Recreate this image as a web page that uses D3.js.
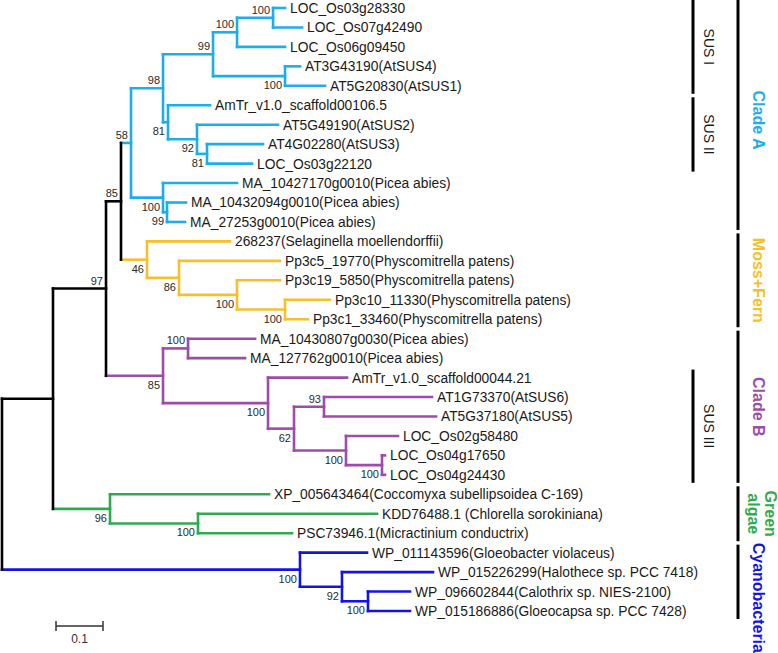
<!DOCTYPE html>
<html><head><meta charset="utf-8">
<script src="https://cdn.jsdelivr.net/npm/d3@7"></script>
<style>html,body{margin:0;padding:0;background:#fff;} svg{display:block;}</style>
</head><body><svg id="chart" width="778" height="653"></svg>
<script>
// ---------- DATA ----------
const nodeIds = [
  "root","A","N97","N85","Bl","N98","N99","N100a","N100aa",
  "LOC_Os03g28330","LOC_Os07g42490","LOC_Os06g09450",
  "N100b","AT3G43190(AtSUS4)","AT5G20830(AtSUS1)",
  "N81","AmTr_v1.0_scaffold00106.5","N92","AT5G49190(AtSUS2)","N81b","AT4G02280(AtSUS3)","LOC_Os03g22120",
  "N100pic","MA_10427170g0010(Picea abies)","N99pic","MA_10432094g0010(Picea abies)","MA_27253g0010(Picea abies)",
  "Y46","268237(Selaginella moellendorffii)","N86","Pp3c5_19770(Physcomitrella patens)","N100y",
  "Pp3c19_5850(Physcomitrella patens)","N100y2","Pp3c10_11330(Physcomitrella patens)","Pp3c1_33460(Physcomitrella patens)",
  "P1","N100p","MA_10430807g0030(Picea abies)","MA_127762g0010(Picea abies)",
  "N100q","AmTr_v1.0_scaffold00044.21","N62","N93","AT1G73370(AtSUS6)","AT5G37180(AtSUS5)",
  "N100r","LOC_Os02g58480","N100s","LOC_Os04g17650","LOC_Os04g24430",
  "G1","XP_005643464(Coccomyxa subellipsoidea C-169)","N100g","KDD76488.1 (Chlorella sorokiniana)","PSC73946.1(Micractinium conductrix)",
  "C1","WP_011143596(Gloeobacter violaceus)","C2","WP_015226299(Halothece sp. PCC 7418)","C3",
  "WP_096602844(Calothrix sp. NIES-2100)","WP_015186886(Gloeocapsa sp. PCC 7428)"
];
const parentIds = [
  "","root","A","N97","N85","Bl","N98","N99","N100a",
  "N100aa","N100aa","N100a",
  "N99","N100b","N100b",
  "N98","N81","N81","N92","N92","N81b","N81b",
  "Bl","N100pic","N100pic","N99pic","N99pic",
  "N85","Y46","Y46","N86","N86",
  "N100y","N100y","N100y2","N100y2",
  "N97","P1","N100p","N100p",
  "P1","N100q","N100q","N62","N93","N93",
  "N62","N100r","N100r","N100s","N100s",
  "A","G1","G1","N100g","N100g",
  "root","C1","C1","C2","C2",
  "C3","C3"
];
const branchLengths = [
  0,0.1085,0.1128,0.0319,0.0213,0.0681,0.1064,0.0511,0.0766,
  0.0255,0.0617,0.1021,
  0.1532,0.0319,0.0851,
  0.0106,0.0894,0.0617,0.1723,0.0213,0.1191,0.0957,
  0.0681,0.1574,0.0085,0.0404,0.0383,
  0.0553,0.1766,0.0681,0.2149,0.1234,
  0.0915,0.1021,0.0957,0.0489,
  0.1213,0.0532,0.1426,0.1213,
  0.2234,0.1681,0.0553,0.0638,0.2298,0.2383,
  0.1106,0.1106,0.0766,0.0064,0.0064,
  0.1213,0.3383,0.1872,0.3809,0.2000,
  0.6340,0.1426,0.0894,0.1936,0.0553,
  0.0894,0.0894
];
const supportValues = [
  "","","97","85","58","98","99","100","100",
  "","","",
  "100","","",
  "81","","92","","81","","",
  "100","","99","","",
  "46","","86","","100",
  "","100","","",
  "85","100","","",
  "100","","62","93","","",
  "100","","100","","",
  "96","","100","","",
  "100","","92","","100",
  "",""
];
const cladeRoots = ["Bl","Y46","P1","G1","C1"];
const cladeNames = [["Clade A"],["Moss+Fern"],["Clade B"],["Green","algae"],["Cyanobacteria"]];
const cladeFirstLeaf = ["LOC_Os03g28330","268237(Selaginella moellendorffii)","MA_10430807g0030(Picea abies)","XP_005643464(Coccomyxa subellipsoidea C-169)","WP_011143596(Gloeobacter violaceus)"];
const cladeLastLeaf = ["MA_27253g0010(Picea abies)","Pp3c1_33460(Physcomitrella patens)","LOC_Os04g24430","PSC73946.1(Micractinium conductrix)","WP_015186886(Gloeocapsa sp. PCC 7428)"];
const subgroupNames = ["SUS I","SUS II","SUS III"];
const subgroupFirstLeaf = ["LOC_Os03g28330","AmTr_v1.0_scaffold00106.5","AmTr_v1.0_scaffold00044.21"];
const subgroupLastLeaf = ["AT5G20830(AtSUS1)","LOC_Os03g22120","LOC_Os04g24430"];
const scaleBarValue = 0.1;

// ---------- STYLE ----------
const cladeColors = ["#1caeea","#f7c02b","#9f4ba9","#2eab4e","#1414e2"];
const cladeLabelShift = [5, 0, 0, 0, 16];
const lineW = 2.6;
const font = "'Liberation Sans', Arial, Helvetica, sans-serif";

// ---------- BUILD ----------
const svg = d3.select("#chart");
const records = nodeIds.map((id,i)=>({id, parent: parentIds[i] || null, len: branchLengths[i], support: supportValues[i]}));
const root = d3.stratify().id(d=>d.id).parentId(d=>d.parent)(records);

const xScale = d3.scaleLinear().domain([0,1]).range([2,472]);
const leaves = root.leaves();
const yScale = d3.scaleLinear().domain([0, leaves.length-1]).range([8, 611]);

root.eachBefore(n => { n.dist = n.parent ? n.parent.dist + n.data.len : 0; n.px = xScale(n.dist); });
leaves.forEach((l,i)=> l.py = yScale(i));
root.eachAfter(n => { if (n.children) n.py = (n.children[0].py + n.children[n.children.length-1].py)/2; });
root.eachBefore(n => {
  const ci = cladeRoots.indexOf(n.id);
  n.color = ci >= 0 ? cladeColors[ci] : (n.parent ? n.parent.color : "#000");
});

const gLines = svg.append("g").attr("stroke-width", lineW).attr("stroke-linecap","square").attr("fill","none");
gLines.selectAll("line.h").data(root.descendants().filter(n=>n.parent)).join("line")
  .attr("class","h")
  .attr("x1", n=>n.parent.px).attr("x2", n=>n.px)
  .attr("y1", n=>n.py).attr("y2", n=>n.py)
  .attr("stroke", n=>n.color);
gLines.selectAll("line.v").data(root.descendants().filter(n=>n.children)).join("line")
  .attr("class","v")
  .attr("x1", n=>n.px).attr("x2", n=>n.px)
  .attr("y1", n=>n.children[0].py).attr("y2", n=>n.children[n.children.length-1].py)
  .attr("stroke", n=>n.color);

svg.append("g").selectAll("text").data(leaves).join("text")
  .attr("x", n=>n.px + 5).attr("y", n=>n.py).attr("dy","0.36em")
  .attr("font-family", font).attr("font-size", 13.8).attr("fill","#1a1a1a")
  .text(n=>n.id);

svg.append("g").selectAll("text").data(root.descendants().filter(n=>n.parent && n.data.support)).join("text")
  .attr("x", n=>n.px - 3)
  .attr("y", n=> n.parent.children[0] === n ? n.py - 4 : n.py + 13)
  .attr("text-anchor","end")
  .attr("font-family", font).attr("font-size", 11).attr("fill","#2a2a2a")
  .text(n=>n.data.support);

const leafY = id => leaves.find(l=>l.id===id).py;
const gB = svg.append("g");
cladeNames.forEach((names,i)=>{
  const y0 = leafY(cladeFirstLeaf[i]) - 8, y1 = leafY(cladeLastLeaf[i]) + 8;
  gB.append("line").attr("x1",738).attr("x2",738).attr("y1",y0).attr("y2",y1)
    .attr("stroke","#000").attr("stroke-width",3);
  const cy = (y0+y1)/2 + cladeLabelShift[i];
  names.forEach((t,j)=>{
    const cx = names.length === 1 ? 758 : 770 - j*17;
    gB.append("text").attr("transform",`translate(${cx},${cy}) rotate(90)`)
      .attr("text-anchor","middle").attr("dominant-baseline","central")
      .attr("font-family", font).attr("font-size",16).attr("font-weight","bold")
      .attr("fill", cladeColors[i]).text(t);
  });
});
subgroupNames.forEach((t,i)=>{
  const y0 = leafY(subgroupFirstLeaf[i]) - 8, y1 = leafY(subgroupLastLeaf[i]) + 8;
  gB.append("line").attr("x1",693).attr("x2",693).attr("y1",y0).attr("y2",y1)
    .attr("stroke","#000").attr("stroke-width",3);
  gB.append("text").attr("transform",`translate(709,${(y0+y1)/2}) rotate(90)`)
    .attr("text-anchor","middle").attr("dominant-baseline","central")
    .attr("font-family", font).attr("font-size",14).attr("fill","#1a1a1a").text(t);
});

const sbX0 = 56, sbX1 = sbX0 + (xScale(scaleBarValue) - xScale(0)), sbY = 626;
const gS = svg.append("g").attr("stroke","#333").attr("stroke-width",1.5);
gS.append("line").attr("x1",sbX0).attr("x2",sbX1).attr("y1",sbY).attr("y2",sbY);
gS.append("line").attr("x1",sbX0).attr("x2",sbX0).attr("y1",sbY-5).attr("y2",sbY+5);
gS.append("line").attr("x1",sbX1).attr("x2",sbX1).attr("y1",sbY-5).attr("y2",sbY+5);
svg.append("text").attr("x",(sbX0+sbX1)/2).attr("y",sbY+17).attr("text-anchor","middle")
  .attr("font-family", font).attr("font-size",12).attr("fill","#333").text(String(scaleBarValue));
</script></body></html>
